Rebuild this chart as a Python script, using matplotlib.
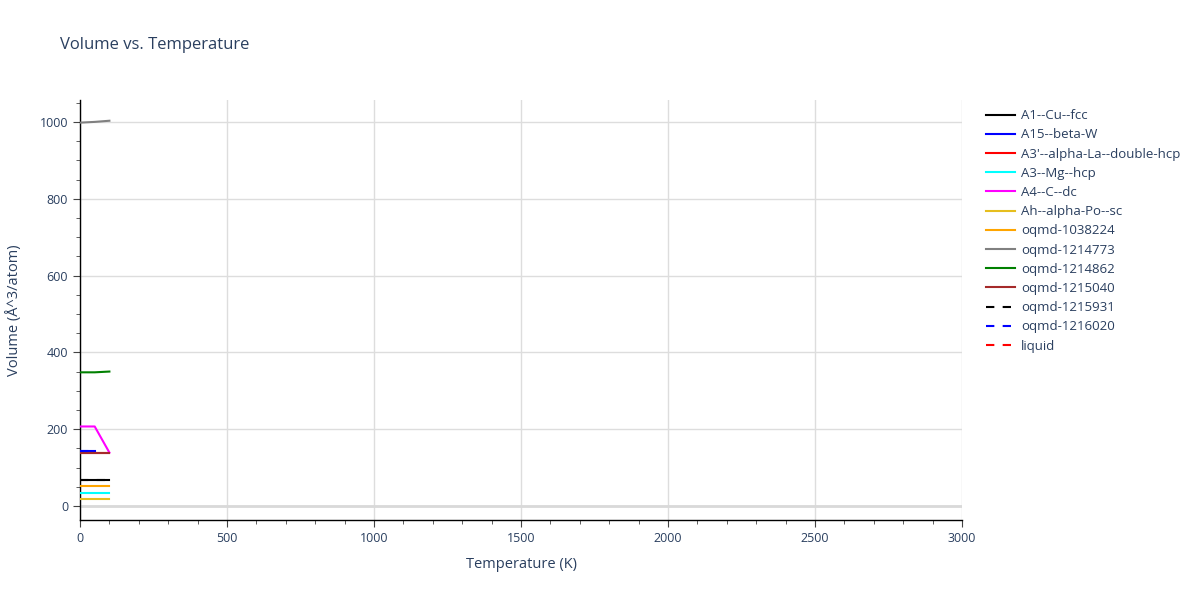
import matplotlib
matplotlib.use("Agg")
import matplotlib.pyplot as plt
from matplotlib.ticker import MultipleLocator

# temperature samples (K)
temps = [0, 50, 100]

# volume per atom (A^3/atom)
a1_cu_fcc = [68, 68, 68]
a15_beta_w = [143, 143]
a3p_alpha_la = [138, 138, 138]
a3_mg_hcp = [34, 34, 34]
a4_c_dc = [207, 207, 139]
ah_alpha_po = [19, 19, 19]
oqmd_1038224 = [52, 52, 52]
oqmd_1214773 = [998, 1000, 1003]
oqmd_1214862 = [348, 348, 350]
oqmd_1215040 = [138, 138, 138]
oqmd_1215931 = [68, 68, 68]
oqmd_1216020 = [143, 143]
liquid = []

series = [
    ("A1--Cu--fcc", temps, a1_cu_fcc, "black", "-"),
    ("A15--beta-W", temps[:2], a15_beta_w, "blue", "-"),
    ("A3'--alpha-La--double-hcp", temps, a3p_alpha_la, "red", "-"),
    ("A3--Mg--hcp", temps, a3_mg_hcp, "cyan", "-"),
    ("A4--C--dc", temps, a4_c_dc, "magenta", "-"),
    ("Ah--alpha-Po--sc", temps, ah_alpha_po, "#e6be1e", "-"),
    ("oqmd-1038224", temps, oqmd_1038224, "orange", "-"),
    ("oqmd-1214773", temps, oqmd_1214773, "grey", "-"),
    ("oqmd-1214862", temps, oqmd_1214862, "green", "-"),
    ("oqmd-1215040", temps, oqmd_1215040, "brown", "-"),
    ("oqmd-1215931", temps, oqmd_1215931, "black", (0, (4, 4))),
    ("oqmd-1216020", temps[:2], oqmd_1216020, "blue", (0, (4, 4))),
    ("liquid", temps[:len(liquid)], liquid, "red", (0, (4, 4))),
]

txt = "#2a3f5f"
plt.rcParams["font.family"] = ["Open Sans", "DejaVu Sans"]

fig = plt.figure(figsize=(12, 6), dpi=100)
ax = fig.add_axes([80 / 1200, 80 / 600, 882 / 1200, 420 / 600])

ax.axhline(0, color="#d9d9d9", lw=2, zorder=1)
for name, x, y, c, ls in series:
    ax.plot(x, y, color=c, ls=ls, lw=1.5, label=name, zorder=3)

ax.set_xlim(0, 3000)
ax.set_ylim(-36.5, 1057)
ax.xaxis.set_major_locator(MultipleLocator(500))
ax.xaxis.set_minor_locator(MultipleLocator(100))
ax.yaxis.set_major_locator(MultipleLocator(200))
ax.yaxis.set_minor_locator(MultipleLocator(50))
ax.grid(True, which="major", color="#dddddd", lw=1, zorder=0)
ax.set_axisbelow(True)

for s in ["top", "right"]:
    ax.spines[s].set_visible(False)
for s in ["left", "bottom"]:
    ax.spines[s].set_color("black")
    ax.spines[s].set_linewidth(1)

ax.tick_params(which="major", length=5, color="#444444", labelcolor=txt, labelsize=9)
ax.tick_params(which="minor", length=3, color="#444444")

ax.set_xlabel("Temperature (K)", color=txt, fontsize=10.5, labelpad=9)
ax.set_ylabel("Volume (Å^3/atom)", color=txt, fontsize=10.5, labelpad=13)
fig.text(60 / 1200, 1 - 45 / 600, "Volume vs. Temperature", color=txt, fontsize=12, va="center")

leg = ax.legend(loc="upper left", bbox_to_anchor=(1.017, 1.0), frameon=False,
                fontsize=9.5, labelcolor=txt, handlelength=2.2, handletextpad=0.45,
                labelspacing=0.47, borderaxespad=0.3)

fig.savefig("out.png", dpi=100)
